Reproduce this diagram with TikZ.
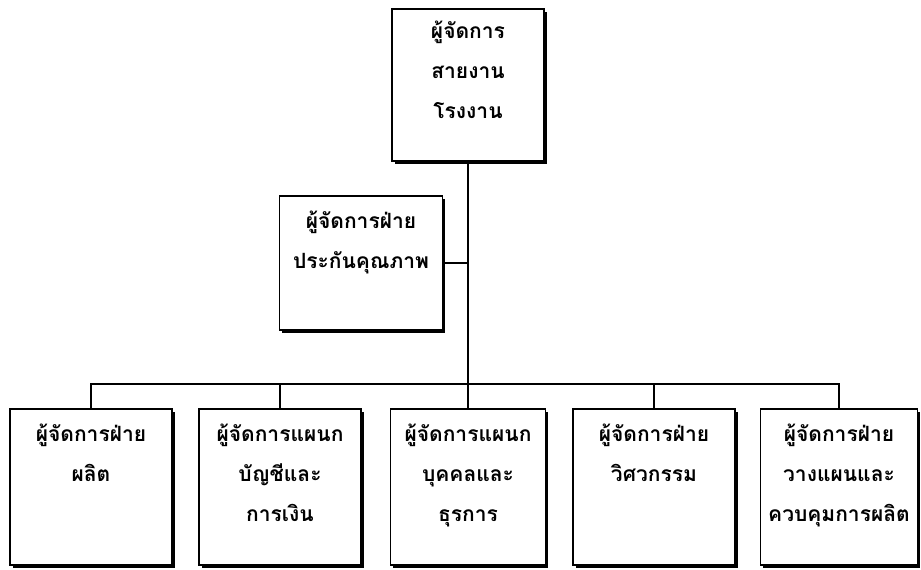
\documentclass[tikz,border=0pt]{standalone}
\usepackage{fontspec}
\newfontfamily\thaifont[Script=Thai]{Loma}
\usetikzlibrary{shadows}
\begin{document}
\begin{tikzpicture}[x=1pt,y=-1pt,
  box/.style={draw=black, line width=1.4pt, fill=white, rectangle, inner sep=0pt,
    drop shadow={shadow xshift=2.5pt, shadow yshift=-2.5pt, fill=black, opacity=1}},
  boxtext/.style={anchor=north, align=center, inner sep=0pt,
    font=\thaifont\bfseries\fontsize{21}{40}\selectfont},
  conn/.style={line width=1.2pt}]
\useasboundingbox (0,0) rectangle (921,570);
% boxes
\node[box, minimum width=152pt, minimum height=152pt] (top) at (468,85) {};
\node[box, minimum width=163pt, minimum height=134pt] (q) at (361,263) {};
\node[box, minimum width=162pt, minimum height=156pt] (b1) at (91,487) {};
\node[box, minimum width=162pt, minimum height=156pt] (b2) at (280,487) {};
\node[box, minimum width=155pt, minimum height=156pt] (b3) at (468,487) {};
\node[box, minimum width=162pt, minimum height=156pt] (b4) at (654,487) {};
\node[box, minimum width=157pt, minimum height=156pt] (b5) at (839,487) {};
% texts
\node[boxtext] (ttop) at ([yshift=-12pt]top.north) {ผู้จัดการ\\สายงาน\\โรงงาน};
\node[boxtext] (tq) at ([yshift=-15pt]q.north) {ผู้จัดการฝ่าย\\ประกันคุณภาพ};
\node[boxtext] (tb1) at ([yshift=-15pt]b1.north) {ผู้จัดการฝ่าย\\ผลิต};
\node[boxtext] (tb2) at ([yshift=-15pt]b2.north) {ผู้จัดการแผนก\\บัญชีและ\\การเงิน};
\node[boxtext] (tb3) at ([yshift=-15pt]b3.north) {ผู้จัดการแผนก\\บุคคลและ\\ธุรการ};
\node[boxtext] (tb4) at ([yshift=-15pt]b4.north) {ผู้จัดการฝ่าย\\วิศวกรรม};
\node[boxtext] (tb5) at ([yshift=-15pt]b5.north) {ผู้จัดการฝ่าย\\วางแผนและ\\ควบคุมการผลิต};
% connectors
\coordinate (bar) at (0,384);
\draw[conn] (top.south) -- (b3.north);
\draw[conn] (q.east) -- (q.east -| top.south);
\draw[conn] (b1.north) -- (b1.north |- bar) -- (b5.north |- bar) -- (b5.north);
\draw[conn] (b2.north) -- (b2.north |- bar);
\draw[conn] (b4.north) -- (b4.north |- bar);
\end{tikzpicture}
\end{document}
